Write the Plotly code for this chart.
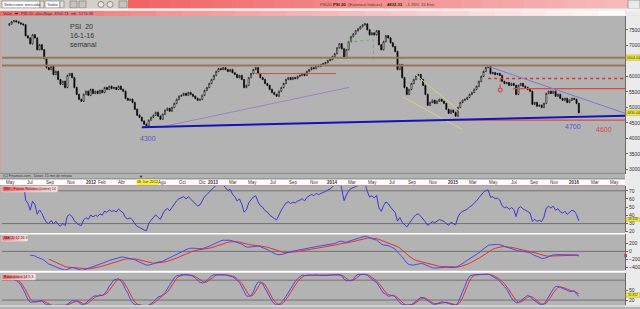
import numpy as np
import pandas as pd
import plotly.graph_objects as go

W, H = 640, 309
def px(x): return x / W
def py(y): return 1 - y / H

# ---------------- data (weekly closes, PSI 20) ----------------
closes = [
 7690, 7760, 7790, 7760, 7720, 7690, 7660, 7310, 7240, 7050,
 7340, 7240, 6860, 7020, 6860, 6570, 6280, 6220, 6320, 6060,
 6160, 5900, 5740, 5840, 5640, 6030, 6090, 5960, 5640, 5420,
 5260, 5200, 5420, 5520, 5390, 5580, 5450, 5520, 5450, 5550,
 5480, 5640, 5580, 5680, 5610, 5640, 5580, 5680, 5580, 5520,
 5290, 5230, 5260, 5160, 4940, 4750, 4680, 4560, 4460, 4400,
 4590, 4680, 4750, 4840, 4720, 4620, 4780, 4910, 4970, 4880,
 5000, 5130, 5260, 5360, 5390, 5450, 5390, 5480, 5420, 5360,
 5290, 5230, 5260, 5390, 5550, 5640, 5770, 5900, 6030, 6160,
 6250, 6220, 6280, 6220, 6160, 6220, 6120, 6060, 5960, 6030,
 5900, 5640, 5710, 5960, 6090, 6220, 6280, 6090, 5960, 5900,
 5770, 5710, 5580, 5480, 5420, 5360, 5520, 5640, 5770, 5900,
 5960, 5900, 5960, 5930, 6000, 6030, 6090, 6030, 6160, 6220,
 6280, 6250, 6350, 6320, 6380, 6410, 6440, 6510, 6540, 6640,
 6730, 6920, 7050, 6890, 6600, 6860, 7120, 7280, 7370, 7470,
 7530, 7600, 7660, 7690, 7500, 7340, 7400, 7340, 7470, 7020,
 6860, 7120, 7310, 7240, 7080, 6960, 6800, 6220, 6380, 5960,
 5640, 5420, 5580, 5770, 5900, 6030, 6060, 5900, 5710, 5420,
 5070, 5160, 5230, 5130, 5200, 5260, 5200, 5130, 4940, 4810,
 4910, 4840, 4720, 5000, 5160, 5230, 5260, 5320, 5420, 5480,
 5580, 5680, 5840, 6000, 6160, 6280, 6320, 6090, 6120, 6060,
 6090, 6030, 5840, 5770, 5800, 5710, 5770, 5710, 5420, 5710,
 5770, 5680, 5640, 5580, 5520, 5100, 5160, 5040, 5070, 5000,
 5130, 5450, 5520, 5450, 5520, 5360, 5420, 5290, 5230, 5290,
 5160, 5230, 5290, 5260, 5130, 4830,
]
first_open = 7650
wick = 25
last_date = "2016-01-15"

month_tick_dates = ["2011-05-01", "2011-07-01", "2011-09-01", "2011-11-01", "2012-01-01",
    "2012-02-01", "2012-04-01", "2012-08-01", "2012-10-01", "2012-12-01", "2013-01-01",
    "2013-03-01", "2013-05-01", "2013-07-01", "2013-09-01", "2013-11-01", "2014-01-01",
    "2014-03-01", "2014-05-01", "2014-07-01", "2014-09-01", "2014-11-01", "2015-01-01",
    "2015-03-01", "2015-05-01", "2015-07-01", "2015-09-01", "2015-11-01", "2016-01-01",
    "2016-03-01", "2016-05-01"]
month_tick_labels = ["May", "Jul", "Sep", "Nov", "2012", "Feb", "Abr", "Ago", "Oct", "Dic",
    "2013", "Mar", "May", "Jul", "Sep", "Nov", "2014", "Mar", "May", "Jul", "Sep", "Nov",
    "2015", "Mar", "May", "Jul", "Sep", "Nov", "2016", "Mar", "May"]

price_ticks = [3000, 3500, 4000, 4500, 5000, 5500, 6000, 7000, 7500]
rsi_ticks = [20, 30, 40, 50, 60, 70]
macd_ticks = [-400, -200, 0, 200]
stoch_ticks = [20, 50]

# drawn levels / trend lines (date, price)
brown_levels = [6604, 6350]
red_seg_2013 = (["2013-05-15", "2014-01-14"], [6092, 6092])
red_dotted = (["2015-04-17", "2016-06-02"], [5932, 5932])
red_level_5600 = (["2015-07-01", "2016-06-02"], [5605, 5605])
red_level_4600 = (["2014-12-23", "2016-06-02"], [4590, 4590])
blue_support = (["2012-06-08", "2016-06-02"], [4360, 4735])
purple_line = (["2012-08-01", "2014-02-22"], [4362, 5644])
blue_resist = (["2015-04-08", "2016-06-02"], [6355, 4812])
yellow_up = (["2014-09-06", "2015-01-22"], [6092, 4880])
yellow_dn = (["2014-08-04", "2015-01-27"], [5330, 4300])
green_path = (["2014-02-20", "2014-05-06", "2014-05-06"], [7106, 7180, 6540])
red_mark = (["2015-05-23", "2015-05-23"], [5930, 5610])
red_mark_pt = (["2015-05-23"], [5560])

# ---------------- derived series ----------------
dates = pd.date_range(end=last_date, periods=len(closes), freq="W-FRI")
c = pd.Series(closes, dtype=float)
o = c.shift(1).fillna(first_open)
hi = np.maximum(o, c) + wick
lo = np.minimum(o, c) - wick

d = c.diff()
up = d.clip(lower=0).ewm(alpha=1 / 14, adjust=False).mean()
dn = (-d.clip(upper=0)).ewm(alpha=1 / 14, adjust=False).mean()
rsi = 100 - 100 / (1 + up / dn)
rsi[:4] = np.nan

ema12 = c.ewm(span=12, adjust=False).mean()
ema26 = c.ewm(span=26, adjust=False).mean()
macd = ema12 - ema26
sig = macd.ewm(span=9, adjust=False).mean()
macd[:9] = np.nan
sig[:17] = np.nan

ll = lo.rolling(14, min_periods=1).min()
hh = hi.rolling(14, min_periods=1).max()
kraw = 100 * (c - ll) / (hh - ll)
k = kraw.rolling(5, min_periods=1).mean()
dl = k.rolling(3, min_periods=1).mean()
k[:2] = np.nan
dl[:3] = np.nan

# ---------------- figure ----------------
fig = go.Figure()
fig.add_trace(go.Candlestick(
    x=dates, open=o, high=hi, low=lo, close=c,
    increasing=dict(line=dict(color="#000000", width=0.6), fillcolor="#ffffff"),
    decreasing=dict(line=dict(color="#000000", width=0.6), fillcolor="#000000"),
    whiskerwidth=0, xaxis="x", yaxis="y", hoverinfo="skip", showlegend=False))

def tline(pair, color, width=1, dash="solid", mode="lines"):
    fig.add_trace(go.Scatter(x=pair[0], y=pair[1], mode=mode, xaxis="x", yaxis="y",
        line=dict(color=color, width=width, dash=dash), hoverinfo="skip", showlegend=False))

tline(purple_line, "#9c84c8", 1)
tline(yellow_up, "#d6d27a", 1)
tline(yellow_dn, "#d6d27a", 1)
tline(red_seg_2013, "#e04848", 1)
tline(red_dotted, "#d83030", 1.3, "dot")
tline(red_level_5600, "#e04848", 1.2)
tline(red_level_4600, "#e04848", 1.2)
tline(blue_resist, "#7878d8", 1)
tline(blue_support, "#1414b8", 2)
tline(green_path, "#58b858", 1, "dot")
tline(red_mark, "#d83030", 1, "dot")
fig.add_trace(go.Scatter(x=red_mark_pt[0], y=red_mark_pt[1], mode="markers", xaxis="x", yaxis="y",
    marker=dict(symbol="circle-open", size=4, color="#d83030", line=dict(width=1)),
    hoverinfo="skip", showlegend=False))

fig.add_trace(go.Scatter(x=dates, y=rsi, mode="lines", xaxis="x2", yaxis="y2",
    line=dict(color="#3a3ad0", width=1), hoverinfo="skip", showlegend=False))
fig.add_trace(go.Scatter(x=dates, y=sig, mode="lines", xaxis="x3", yaxis="y3",
    line=dict(color="#e83030", width=1), hoverinfo="skip", showlegend=False))
fig.add_trace(go.Scatter(x=dates, y=macd, mode="lines", xaxis="x3", yaxis="y3",
    line=dict(color="#4a4ae8", width=1), hoverinfo="skip", showlegend=False))
fig.add_trace(go.Scatter(x=dates, y=dl, mode="lines", xaxis="x4", yaxis="y4",
    line=dict(color="#e83030", width=1), hoverinfo="skip", showlegend=False))
fig.add_trace(go.Scatter(x=dates, y=k, mode="lines", xaxis="x4", yaxis="y4",
    line=dict(color="#4a4ae8", width=1), hoverinfo="skip", showlegend=False))

FONT = "Liberation Sans"
axis_font = dict(size=5, color="#303030", family=FONT)
xr = ["2011-04-14", "2016-06-02"]
xcommon = dict(domain=[px(2), px(625)], range=xr, visible=False, fixedrange=True)
ycommon = dict(side="right", showgrid=False, zeroline=False, showline=True, linecolor="#6a6a6a",
    linewidth=1, ticks="outside", ticklen=2, tickcolor="#6a6a6a", tickfont=axis_font, fixedrange=True)

fig.update_layout(
    width=W, height=H, margin=dict(l=0, r=0, t=0, b=0),
    paper_bgcolor="#b3b3b3", plot_bgcolor="#b3b3b3", showlegend=False,
    xaxis=dict(**xcommon, anchor="y", rangeslider=dict(visible=False)),
    xaxis2=dict(**xcommon, anchor="y2", matches="x"),
    xaxis3=dict(**xcommon, anchor="y3", matches="x"),
    xaxis4=dict(**xcommon, anchor="y4", matches="x"),
    yaxis=dict(**ycommon, anchor="x", domain=[py(175), py(16)], range=[2860, 7948], tickvals=price_ticks),
    yaxis2=dict(**ycommon, anchor="x2", domain=[py(234), py(187)], range=[19.1, 76.1], tickvals=rsi_ticks),
    yaxis3=dict(**ycommon, anchor="x3", domain=[py(272), py(236)], range=[-475, 425], tickvals=macd_ticks),
    yaxis4=dict(**ycommon, anchor="x4", domain=[py(307), py(275)], range=[5, 101], tickvals=stoch_ticks),
)

shapes = []
ann = []

def rect(x0, y0, x1, y1, fill, line=None, layer="below"):
    shapes.append(dict(type="rect", xref="paper", yref="paper", x0=px(x0), x1=px(x1),
        y0=py(y1), y1=py(y0), fillcolor=fill,
        line=dict(width=0) if line is None else dict(color=line, width=0.8), layer=layer))

def hline(x0, x1, y, color, width=1, layer="above"):
    shapes.append(dict(type="line", xref="paper", yref="paper", x0=px(x0), x1=px(x1),
        y0=py(y), y1=py(y), line=dict(color=color, width=width), layer=layer))

def grad(x0, x1, y0, y1, c0, c1, n=24, layer="below"):
    for i in range(n):
        t = i / (n - 1)
        col = "rgb(%d,%d,%d)" % tuple(round(c0[j] + (c1[j] - c0[j]) * t) for j in range(3))
        rect(x0 + (x1 - x0) * i / n, y0, x0 + (x1 - x0) * (i + 1) / n + 0.5, y1, col, layer=layer)

def text(x, y, s, size=5, color="#222", xanchor="left", xref="paper", weight="normal", xshift=0):
    ann.append(dict(x=px(x) if xref == "paper" else x, y=py(y), xref=xref, yref="paper", text=s,
        showarrow=False, xanchor=xanchor, yanchor="middle", borderpad=0, xshift=xshift,
        font=dict(size=size, color=color, family=FONT, weight=weight)))

# toolbar
rect(0, 0, 640, 11, "#d4d0c8")
rect(2, 1, 40, 8, "#ffffff", "#8a8a8a")
rect(40, 1, 44, 8, "#e6e3dc", "#8a8a8a")
text(3, 4.5, "Seleccione mercado", 4, "#333")
rect(45, 1, 60, 8, "#ffffff", "#8a8a8a")
rect(60, 1, 64, 8, "#e6e3dc", "#8a8a8a")
text(46, 4.5, "Todos", 4, "#333")
rect(70, 1, 77, 8, "#c8c4bc", "#8a8a8a")
rect(79, 1, 86, 8, "#c8c4bc", "#8a8a8a")
for cx in (101, 110):
    shapes.append(dict(type="circle", xref="paper", yref="paper", x0=px(cx - 3), x1=px(cx + 3),
        y0=py(7.5), y1=py(1.5), fillcolor="#e8e6e0", line=dict(color="#777", width=0.8), layer="below"))
rect(119, 1, 127, 8, "#c8c4bc", "#8a8a8a")
grad(128, 628, 0, 8.5, (240, 100, 100), (246, 186, 186))
rect(628, 0, 640, 9, "#e9e9e9", "#8a8a8a")
rect(0, 8.5, 640, 11, "#f4f0f0")
text(319, 4.5, "PSI20", 4.2, "#444")
text(332, 4.5, "PSI 20", 4.2, "#222", weight="bold")
text(347, 4.5, "(Euronext Indices)", 4.2, "#444")
text(386, 4.5, "4832.33", 4.2, "#222", weight="bold")
text(405, 4.5, "-1.76%", 4.2, "#444")
text(420, 4.5, "15 Ene", 4.2, "#444")
# legend strip
grad(0, 625, 11, 16, (240, 112, 112), (255, 250, 250))
rect(625, 11, 640, 16, "#ececec")
text(2, 13.6, "Valor", 4, "#333")
rect(15, 13, 18, 14.2, "#222")
text(20, 13.6, "PSI 20", 4, "#333")
text(34, 13.6, "alto+Bajo: 4900.74  mb  5170.38", 4, "#333")

# right axis column
rect(625, 16, 640, 309, "#ebebeb")
# left edge
shapes.append(dict(type="line", xref="paper", yref="paper", x0=px(0.7), x1=px(0.7), y0=py(175), y1=py(16),
    line=dict(color="#dc9a9a", width=1), layer="above"))
# main bottom + date strip
hline(0, 625, 174.5, "#8a8a8a", 1)
text(2, 176.8, "(C) Finanzas.com - Datos: 15 min de retraso", 3.5, "#333")
hline(0, 625, 180, "#8a8a8a", 1)
rect(0, 180.5, 625, 186.3, "#ffffff")
hline(0, 625, 186.8, "#e09090", 1)
for dte, lab in zip(month_tick_dates, month_tick_labels):
    text(dte, 183.5, lab, 4.5, "#333", xanchor="center", xref="x",
         weight="bold" if lab.isdigit() else "normal",
         xshift=2.5 if dte < "2014-01-01" else 0.5)
rect(136.5, 180.6, 158.3, 186.2, "#f6f23c", layer="above")
text(147.4, 183.5, "06 Jun 2012", 3.8, "#333", xanchor="center")
ann.append(dict(x="2012-06-06", y=py(177.5), xref="x", yref="paper", text="▼", showarrow=False,
    font=dict(size=4, color="#111"), xanchor="center", yanchor="middle"))

# panel separators
hline(0, 625, 235.3, "#ffffff", 1.5)
hline(0, 625, 273.5, "#ffffff", 2)
hline(0, 640, 308, "#dddddd", 1.5)

# horizontal reference lines in indicator panels
for lvl in (70, 30):
    shapes.append(dict(type="line", xref="x2 domain", yref="y2", x0=0, x1=1, y0=lvl, y1=lvl,
        line=dict(color="#727272", width=1), layer="below"))
shapes.append(dict(type="line", xref="x3 domain", yref="y3", x0=0, x1=1, y0=0, y1=0,
    line=dict(color="#727272", width=1), layer="below"))
for lvl in (80, 20):
    shapes.append(dict(type="line", xref="x4 domain", yref="y4", x0=0, x1=1, y0=lvl, y1=lvl,
        line=dict(color="#727272", width=1), layer="below"))

# brown levels
for lvl in brown_levels:
    shapes.append(dict(type="line", xref="x domain", yref="y", x0=0, x1=1, y0=lvl, y1=lvl,
        line=dict(color="#9e7656", width=2), layer="above"))

# panel headers
def header(x1, y0, y1, label):
    grad(2, x1, y0, y1, (238, 104, 104), (250, 220, 220), n=10, layer="above")
    shapes.append(dict(type="rect", xref="paper", yref="paper", x0=px(2), x1=px(x1), y0=py(y1), y1=py(y0),
        line=dict(color="#f0f0f0", width=0.6), fillcolor="rgba(0,0,0,0)", layer="above"))
    text(3, (y0 + y1) / 2, label, 3.6, "#3a1010")

header(57, 187.5, 193, "RSI - Fuerza Relativa (cierre) 14")
header(27, 237, 242.5, "MACD 12 26 9")
header(35, 276, 281.5, "Estocástico 14 5 3")

# chart texts
text(69, 26.7, "PSI  20", 7, "#333")
text(69, 35.7, "16-1-16", 7, "#333")
text(69, 44.6, "semanal", 7, "#333")
text(148, 139.5, "4300", 7, "#5656cc", xanchor="center")
text(573, 127.5, "4700", 7, "#5656cc", xanchor="center")
text(604, 130.5, "4600", 7, "#d84848", xanchor="center")

# right-axis value flags
def flag(yref, val, half, label, size=3.6):
    shapes.append(dict(type="rect", xref="paper", yref=yref, x0=px(626), x1=px(640),
        y0=val - half, y1=val + half, fillcolor="#f4ee3a", line=dict(color="#b0a020", width=0.5), layer="above"))
    ann.append(dict(x=px(633), y=val, xref="paper", yref=yref, text=label, showarrow=False,
        xanchor="center", yanchor="middle", borderpad=0, font=dict(size=size, color="#333", family=FONT)))

flag("y", brown_levels[0], 85, "%.2f" % brown_levels[0])
flag("y", closes[-1], 85, "%.2f" % closes[-1])
flag("y2", 35.0, 2.2, "%.3f" % rsi.iloc[-1], 3.2)
flag("y4", 35.0, 6.5, "%.3f" % k.iloc[-1], 3.2)
for ser, col in ((macd, "#4a4ae8"), (sig, "#e83030")):
    v = float(ser.iloc[-1])
    shapes.append(dict(type="rect", xref="paper", yref="y3", x0=px(624.5), x1=px(627),
        y0=v - 30, y1=v + 30, fillcolor=col, line=dict(width=0), layer="above"))

fig.update_layout(shapes=shapes, annotations=ann)
fig.write_html("out.html", config={"displayModeBar": False, "staticPlot": True})
